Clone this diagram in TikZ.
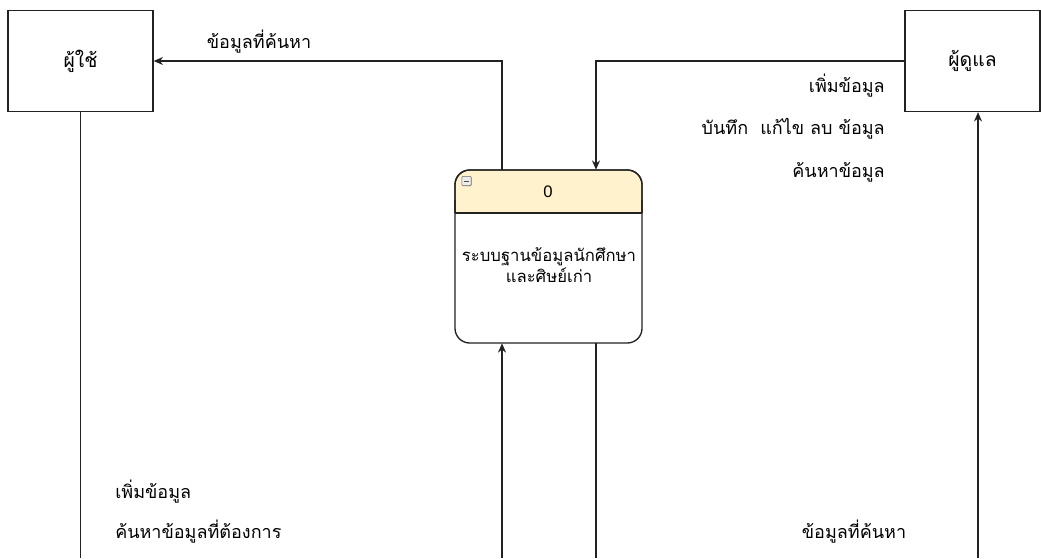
\documentclass[tikz,border=0pt]{standalone}
\usepackage{fontspec}
\setmainfont{Liberation Sans}
\newfontfamily\thaifont[Script=Thai]{Loma}
\usetikzlibrary{arrows.meta}
\definecolor{hdr}{HTML}{FFF2CC}
\definecolor{ln}{HTML}{222222}
\tikzset{
  entity/.style={draw=ln, line width=1pt, minimum width=108.75pt, minimum height=75.75pt, inner sep=0pt, font=\thaifont\fontsize{14.5}{16}\selectfont},
  lbl/.style={font=\thaifont\fontsize{13.5}{15}\selectfont, inner sep=0pt},
  flow/.style={draw=ln, line width=1pt, -{Stealth[length=7pt,width=6pt]}},
  plain/.style={draw=ln, line width=1pt},
}
\begin{document}
\begin{tikzpicture}[x=0.75pt,y=-0.75pt]
\useasboundingbox (0,0) rectangle (1041,558);
% entities
\node[entity] (user) at (80.5,61) {ผู้ใช้};
\node[entity, minimum width=101.25pt] (admin) at (972.5,61) {ผู้ดูแล};
% process
\draw[ln, line width=1pt, fill=hdr, rounded corners=11pt] (455,213) -- (455,170) -- (642,170) -- (642,213);
\fill[white, rounded corners=11pt] (455,213) -- (455,343) -- (642,343) -- (642,213) -- cycle;
\draw[ln, line width=1pt, rounded corners=11pt] (455,200) -- (455,343) -- (642,343) -- (642,200);
\draw[ln, line width=1pt] (455,213) -- (642,213);
\draw[ln, line width=1pt, rounded corners=11pt] (455,213) -- (455,170) -- (642,170) -- (642,213);
\node[inner sep=0pt, minimum width=140.25pt, minimum height=129.75pt] (proc) at (548.5,256.5) {};
\node[font=\fontsize{12.5}{14}\selectfont] (pnum) at (548,192) {0};
\node[draw=gray!80!black, fill=gray!15, line width=0.5pt, minimum size=7pt, inner sep=0pt, rounded corners=0.8pt] (icon) at (466.5,181) {};
\draw[gray!60!black, line width=0.7pt] ([xshift=-2.2pt]icon.center) -- ([xshift=2.2pt]icon.center);
\node[align=center, inner sep=0pt, font=\thaifont\fontsize{12.5}{13.5}\selectfont] (ptext) at (549,265) {ระบบฐานข้อมูลนักศึกษา\\และศิษย์เก่า};
% free ends at the bottom edge
\coordinate (b1) at (80.5,558);
\coordinate (b2) at (502,558);
\coordinate (b3) at (596,558);
\coordinate (b4) at (978,558);
% connectors
\draw[flow] (proc.north -| b2) |- (user.east);
\draw[flow] (admin.west) -| (proc.north -| b3);
\draw[plain] (user.south) -- (b1);
\draw[flow] (b2) -- (proc.south -| b2);
\draw[plain] (proc.south -| b3) -- (b3);
\draw[flow] (b4) -- (admin.south -| b4);
% labels
\node[lbl] (l1) at (259,42) {ข้อมูลที่ค้นหา};
\node[lbl, anchor=east] (l2) at (885,86) {เพิ่มข้อมูล};
\node[lbl, anchor=east] (l3) at (885,129) {บันทึก\ \ แก้ไข ลบ ข้อมูล};
\node[lbl, anchor=east] (l4) at (885,172) {ค้นหาข้อมูล};
\node[lbl, anchor=west] (l5) at (115,492) {เพิ่มข้อมูล};
\node[lbl, anchor=west] (l6) at (115,532) {ค้นหาข้อมูลที่ต้องการ};
\node[lbl] (l7) at (854,532) {ข้อมูลที่ค้นหา};
\end{tikzpicture}
\end{document}
